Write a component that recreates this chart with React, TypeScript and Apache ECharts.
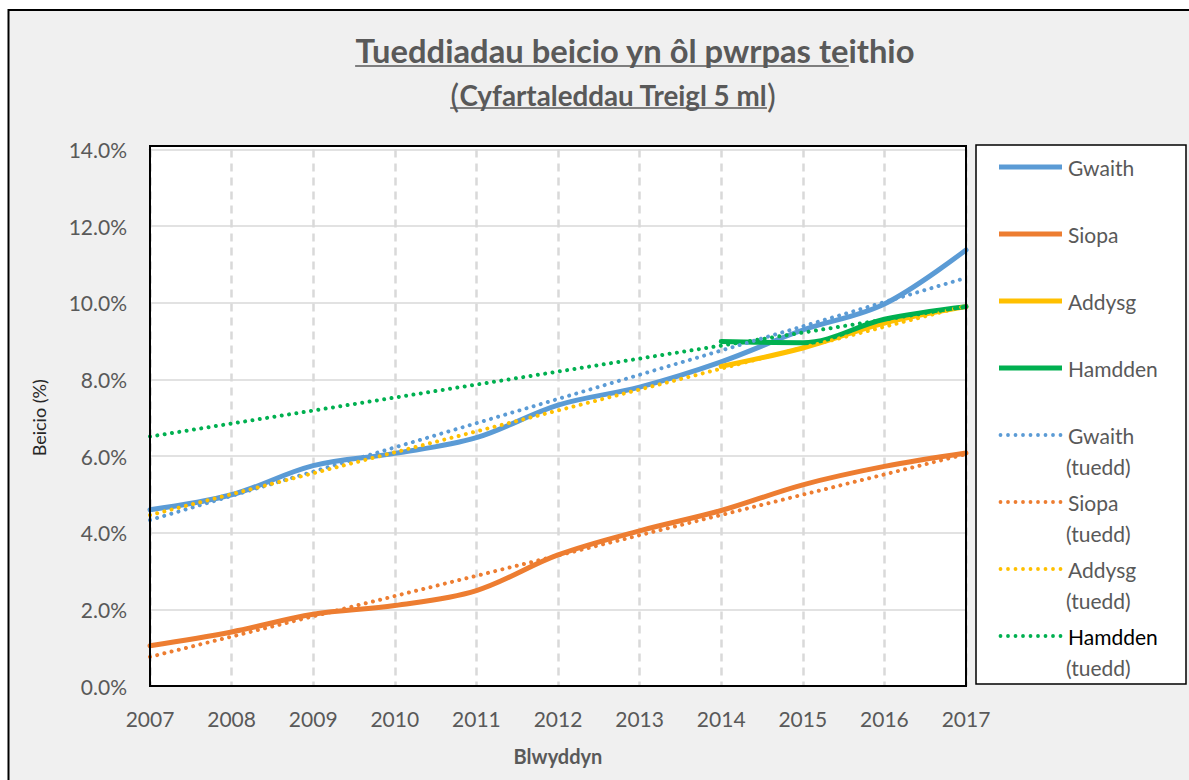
import React, { useEffect, useRef } from 'react';
import * as echarts from 'echarts';

const years = ['2007', '2008', '2009', '2010', '2011', '2012', '2013', '2014', '2015', '2016', '2017'];
const gwaith = [4.6, 4.99, 5.75, 6.07, 6.48, 7.33, 7.8, 8.46, 9.29, 9.97, 11.38];
const siopa = [1.05, 1.41, 1.87, 2.1, 2.49, 3.42, 4.05, 4.58, 5.25, 5.73, 6.08];
const addysg = [null, null, null, null, null, null, null, 8.34, 8.82, 9.47, 9.9];
const hamdden = [null, null, null, null, null, null, null, 8.99, 8.96, 9.57, 9.9];
// linear trend lines: [value at 2007, value at 2017]
const gwaithTrend = [4.33, 10.65];
const siopaTrend = [0.76, 6.05];
const addysgTrend = [4.46, 9.92];
const hamddenTrend = [6.51, 9.9];

const yMin = 0;
const yMax = 14;
const yStep = 2;

const titleText = 'Tueddiadau beicio yn ôl pwrpas teithio';
const titleUnderlined = 'Tueddiadau beicio yn ôl pwrpas te';
const subtitleText = 'Cyfartaleddau Treigl 5 ml';
const yName = 'Beicio (%)';
const xName = 'Blwyddyn';

const C_BLUE = '#5B9BD5';
const C_ORANGE = '#ED7D31';
const C_YELLOW = '#FFC000';
const C_GREEN = '#00B050';
const FONT = 'Lato';
const GREY = '#595959';

function measure(text: string, font: string): number {
  const c = document.createElement('canvas').getContext('2d')!;
  c.font = font;
  return c.measureText(text).width;
}

// legend icons (65 x 24 box)
const SOLID_ICON = 'path://M0,0M65,24M1,9.6L64,9.6L64,14.4L1,14.4Z';
function dotIcon(): string {
  let d = 'path://M0,0M65,24';
  const r = 1.9;
  for (let k = 0; k < 9; k++) {
    const cx = 2.5 + k * 7.5;
    d += `M${cx - r},12A${r},${r},0,1,0,${cx + r},12A${r},${r},0,1,0,${cx - r},12Z`;
  }
  return d;
}
const DOT_ICON = dotIcon();

export default function App() {
  const ref = useRef<HTMLDivElement>(null);
  useEffect(() => {
    const chart = echarts.init(ref.current!, null, { renderer: 'svg' });

    const titleTarget = 560;
    const tSize = (30 * titleTarget) / measure(titleText, `bold 30px ${FONT}`);
    const tW = measure(titleText, `bold ${tSize}px ${FONT}`);
    const tUW = measure(titleUnderlined, `bold ${tSize}px ${FONT}`);
    const tCx = 635;
    const tX0 = tCx - tW / 2;

    const subInnerTarget = 308;
    const sSize = (22 * subInnerTarget) / measure(subtitleText, `bold 22px ${FONT}`);
    const pSize = sSize * 1.2;
    const sInW = measure(subtitleText, `bold ${sSize}px ${FONT}`);
    const pW = measure('(', `${pSize}px ${FONT}`);
    const sCx = 613;
    const sX0 = sCx - (sInW + 2 * pW) / 2;

    const solid = (name: string, color: string, data: any[]) => ({
      name,
      type: 'line',
      data,
      smooth: 0.35,
      symbol: 'none',
      connectNulls: false,
      lineStyle: { color, width: 5, cap: 'round' },
      itemStyle: { color },
      z: 3,
    });
    const trend = (name: string, color: string, ends: number[]) => ({
      name,
      type: 'line',
      data: [
        [years[0], ends[0]],
        [years[years.length - 1], ends[1]],
      ],
      symbol: 'none',
      lineStyle: { color, width: 4, type: [0.01, 7.4], cap: 'round' },
      itemStyle: { color },
      z: 4,
    });

    const tuedd = [466, 533, 600, 667].map((y) => ({
      type: 'text',
      x: 1066,
      y,
      z: 50,
      style: { text: '(tuedd)', fill: GREY, font: `21px ${FONT}`, align: 'left', verticalAlign: 'middle' },
    }));

    const option: any = {
      animation: false,
      backgroundColor: '#ffffff',
      textStyle: { fontFamily: FONT },
      grid: { left: 150, top: 149.5, width: 816, height: 536.5, containLabel: false },
      xAxis: {
        type: 'category',
        data: years,
        boundaryGap: false,
        axisLine: { show: true, lineStyle: { color: '#000', width: 2 } },
        axisTick: { show: false },
        axisLabel: { color: GREY, fontSize: 21, fontFamily: FONT, margin: 22 },
        splitLine: { show: true, lineStyle: { color: '#d9d9d9', width: 2.5, type: [8, 6] } },
        name: xName,
        nameLocation: 'middle',
        nameGap: 60,
        nameTextStyle: { color: GREY, fontSize: 20, fontWeight: 'bold', fontFamily: FONT },
      },
      yAxis: {
        type: 'value',
        min: yMin,
        max: yMax,
        interval: yStep,
        axisLine: { show: true, lineStyle: { color: '#000', width: 2 } },
        axisTick: { show: false },
        axisLabel: {
          color: GREY,
          fontSize: 21,
          fontFamily: FONT,
          margin: 23,
          formatter: (v: number) => v.toFixed(1) + '%',
        },
        splitLine: { show: true, lineStyle: { color: '#d9d9d9', width: 1.5 } },
        name: yName,
        nameLocation: 'middle',
        nameGap: 102,
        nameTextStyle: { color: '#262626', fontSize: 18, fontFamily: FONT },
      },
      legend: {
        orient: 'vertical',
        left: 993,
        top: 150,
        itemWidth: 65,
        itemHeight: 24,
        itemGap: 43,
        textStyle: { color: GREY, fontSize: 21, fontFamily: FONT },
        formatter: (n: string) => n.replace(' (tuedd)', ''),
        data: [
          { name: 'Gwaith', icon: SOLID_ICON },
          { name: 'Siopa', icon: SOLID_ICON },
          { name: 'Addysg', icon: SOLID_ICON },
          { name: 'Hamdden', icon: SOLID_ICON },
          { name: 'Gwaith (tuedd)', icon: DOT_ICON },
          { name: 'Siopa (tuedd)', icon: DOT_ICON },
          { name: 'Addysg (tuedd)', icon: DOT_ICON },
          { name: 'Hamdden (tuedd)', icon: DOT_ICON, textStyle: { color: '#000' } },
        ],
      },
      series: [
        solid('Gwaith', C_BLUE, gwaith),
        solid('Siopa', C_ORANGE, siopa),
        solid('Addysg', C_YELLOW, addysg),
        solid('Hamdden', C_GREEN, hamdden),
        trend('Gwaith (tuedd)', C_BLUE, gwaithTrend),
        trend('Siopa (tuedd)', C_ORANGE, siopaTrend),
        trend('Addysg (tuedd)', C_YELLOW, addysgTrend),
        trend('Hamdden (tuedd)', C_GREEN, hamddenTrend),
      ],
      graphic: [
        { type: 'rect', z: -10, shape: { x: 9, y: 10, width: 1190, height: 780 }, style: { fill: '#f0f0f0' } },
        { type: 'line', z: 100, shape: { x1: 8.5, y1: 9, x2: 8.5, y2: 790 }, style: { stroke: '#000', lineWidth: 2 } },
        { type: 'line', z: 100, shape: { x1: 8, y1: 10, x2: 1200, y2: 10 }, style: { stroke: '#000', lineWidth: 2 } },
        { type: 'rect', z: -9, shape: { x: 150, y: 146, width: 816, height: 540 }, style: { fill: '#ffffff' } },
        { type: 'rect', z: 100, shape: { x: 150, y: 146, width: 816, height: 540 }, style: { fill: 'none', stroke: '#000', lineWidth: 2 } },
        { type: 'rect', z: -5, shape: { x: 976, y: 145, width: 210, height: 539 }, style: { fill: '#ffffff', stroke: '#000', lineWidth: 1.5 } },
        ...tuedd,
        {
          type: 'text',
          x: tCx,
          y: 50,
          z: 50,
          style: { text: titleText, fill: GREY, font: `bold ${tSize}px ${FONT}`, align: 'center', verticalAlign: 'middle' },
        },
        { type: 'line', z: 50, shape: { x1: tX0, y1: 66, x2: tX0 + tUW, y2: 66 }, style: { stroke: GREY, lineWidth: 1.5 } },
        {
          type: 'text',
          x: sCx,
          y: 95,
          z: 50,
          style: {
            text: `{p|(}{b|${subtitleText}}{p|)}`,
            align: 'center',
            verticalAlign: 'middle',
            rich: {
              p: { fill: GREY, fontSize: pSize, fontFamily: FONT, fontWeight: 'normal' },
              b: { fill: GREY, fontSize: sSize, fontFamily: FONT, fontWeight: 'bold' },
            },
          },
        },
        { type: 'line', z: 50, shape: { x1: sX0, y1: 108, x2: sX0 + pW + sInW, y2: 108 }, style: { stroke: GREY, lineWidth: 1.5 } },
      ],
    };
    chart.setOption(option);
    return () => chart.dispose();
  }, []);
  return <div ref={ref} style={{ position: 'fixed', left: 0, top: 0, width: 1189, height: 780 }} />;
}
